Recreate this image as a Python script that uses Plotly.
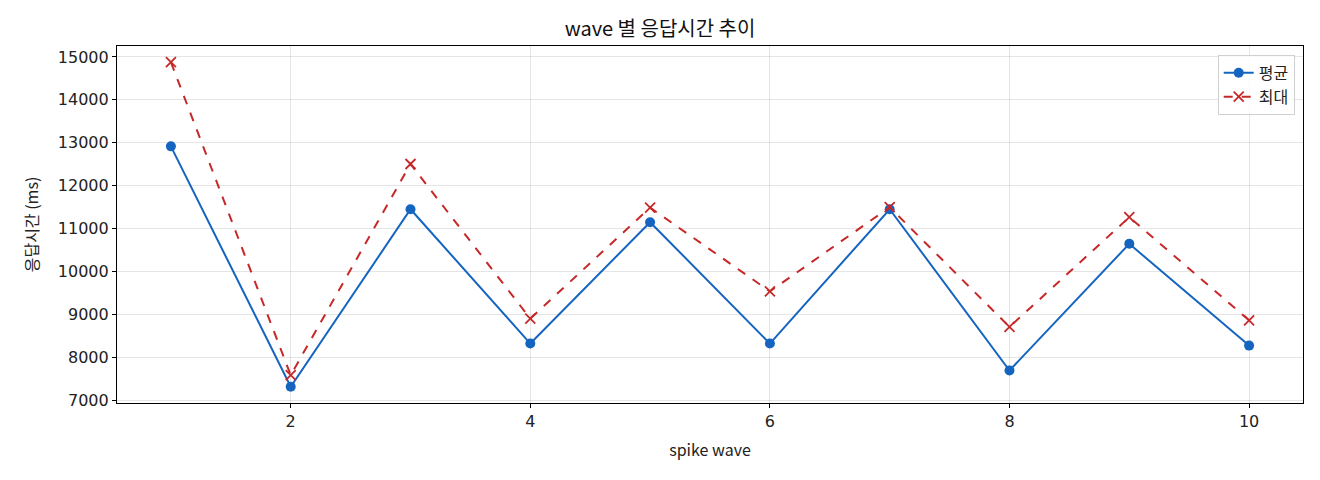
import plotly.graph_objects as go

# spike wave 별 응답시간 (ms)
waves = [1, 2, 3, 4, 5, 6, 7, 8, 9, 10]
avg_ms = [12918, 7319, 11454, 8325, 11152, 8325, 11454, 7697, 10648, 8278]
max_ms = [14877, 7588, 12507, 8906, 11492, 9540, 11501, 8713, 11268, 8866]
y_ticks = [7000, 8000, 9000, 10000, 11000, 12000, 13000, 14000, 15000]
x_ticks = [2, 4, 6, 8, 10]

font_kr = "Noto Sans CJK KR"

fig = go.Figure()
fig.add_trace(go.Scatter(
    x=waves, y=avg_ms, name="평균", mode="lines+markers",
    line=dict(color="#1565C0", width=2),
    marker=dict(symbol="circle", size=10, color="#1565C0"),
))
fig.add_trace(go.Scatter(
    x=waves, y=max_ms, name="최대", mode="lines+markers",
    line=dict(color="#C62828", width=2, dash="dash"),
    marker=dict(symbol="x-thin", size=10, line=dict(color="#C62828", width=1.8)),
))

axis_style = dict(
    showline=True, linecolor="black", linewidth=1.2, mirror=True,
    ticks="outside", ticklen=4, tickcolor="black",
    showgrid=True, gridcolor="rgba(0,0,0,0.1)", gridwidth=1,
    zeroline=False, tickfont=dict(family="DejaVu Sans", size=16, color="#222"),
)

fig.update_xaxes(range=[0.55, 10.45], tickvals=x_ticks,
                 title=dict(text="spike wave", font=dict(size=16), standoff=14),
                 **axis_style)
fig.update_yaxes(range=[6941, 15255], tickvals=y_ticks, tickformat="d",
                 title=dict(text="응답시간 (ms)", font=dict(size=16), standoff=15),
                 **axis_style)

fig.update_layout(
    width=1304, height=464,
    margin=dict(l=109, r=9, t=38, b=69),
    paper_bgcolor="white", plot_bgcolor="white",
    font=dict(family=font_kr, color="#222"),
    title=dict(text="wave 별 응답시간 추이", x=0.5, xanchor="center",
               yref="container", y=0.955, yanchor="middle",
               font=dict(size=20, color="#111")),
    legend=dict(x=0.993, y=0.975, xanchor="right", yanchor="top",
                bgcolor="rgba(255,255,255,0.8)", bordercolor="#d0d0d0", borderwidth=1,
                font=dict(size=16), itemwidth=30),
)

fig.write_html("out.html")
